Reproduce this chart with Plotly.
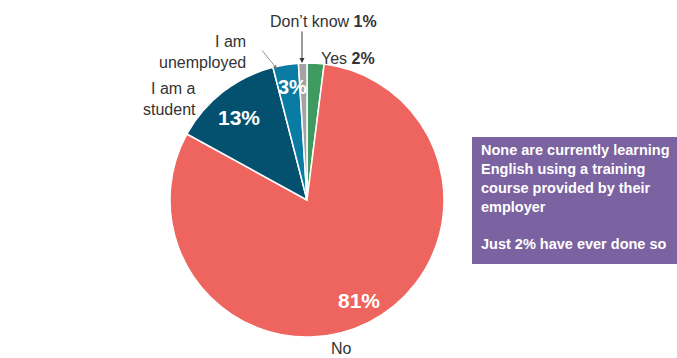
import plotly.graph_objects as go

W, H = 677, 358
categories = ["Yes", "No", "I am a student", "I am unemployed", "Don’t know"]
values = [2, 81, 13, 3, 1]
colors = ["#3E9A5E", "#EE645E", "#03506F", "#0A7CA3", "#A3A3A3"]

def px(x):
    return x / W

def py(y):
    return 1 - y / H

cx, cy, r = 307, 200, 137

fig = go.Figure(go.Pie(
    labels=categories,
    values=values,
    sort=False,
    direction="clockwise",
    rotation=0,
    marker=dict(colors=colors, line=dict(color="white", width=1.5)),
    textinfo="none",
    hoverinfo="label+percent",
    showlegend=False,
    domain=dict(x=[px(cx - r), px(cx + r)], y=[py(cy + r), py(cy - r)]),
))

font = "Liberation Sans, Arial, sans-serif"
lab = dict(family=font, size=16, color="#333333")
ann = []
# inside percentage labels
for txt, x, y, s in [(f"{values[1]}%", 359, 300, 21), (f"{values[2]}%", 239, 117, 21), (f"{values[3]}%", 292, 87, 20)]:
    ann.append(dict(x=px(x), y=py(y), xref="paper", yref="paper", text=f"<b>{txt}</b>",
                    showarrow=False, font=dict(family=font, size=s, color="white"),
                    xanchor="center", yanchor="middle"))
# outside labels
outside = [
    (f"Don’t know <b>{values[4]}%</b>", 323, 22, "center"),
    (f"Yes <b>{values[0]}%</b>", 348, 58, "center"),
    ("I am<br>unemployed", 248, 52, "right"),
    ("I am a<br>student", 198, 99, "right"),
    ("No", 341, 348, "center"),
]
for txt, x, y, xa in outside:
    ann.append(dict(x=px(x), y=py(y), xref="paper", yref="paper", text=txt, showarrow=False,
                    font=lab, xanchor=xa, yanchor="middle", align="right"))

# arrows
ann.append(dict(x=px(302), y=py(63), xref="paper", yref="paper", text="", showarrow=True,
                ax=0, ay=-33, arrowhead=2, arrowsize=1, arrowwidth=1, arrowcolor="#333333"))
ann.append(dict(x=px(277), y=py(69), xref="paper", yref="paper", text="", showarrow=True,
                ax=-16, ay=-20, arrowhead=2, arrowsize=1, arrowwidth=0.8, arrowcolor="#777777"))

# callout box text
ann.append(dict(x=px(479), y=py(140), xref="paper", yref="paper",
                text="<b>None are currently learning<br>English using a training<br>course provided by their<br>employer<br><br>Just 2% have ever done so</b>",
                showarrow=False, xanchor="left", yanchor="top", align="left",
                font=dict(family=font, size=14.5, color="white")))

fig.update_layout(
    width=W, height=H,
    margin=dict(l=0, r=0, t=0, b=0),
    paper_bgcolor="white",
    plot_bgcolor="white",
    annotations=ann,
    shapes=[dict(type="rect", xref="paper", yref="paper", x0=px(472), x1=px(677),
                 y0=py(264), y1=py(137), fillcolor="#7B62A0", line=dict(width=0), layer="below")],
)

fig.write_html("out.html")
